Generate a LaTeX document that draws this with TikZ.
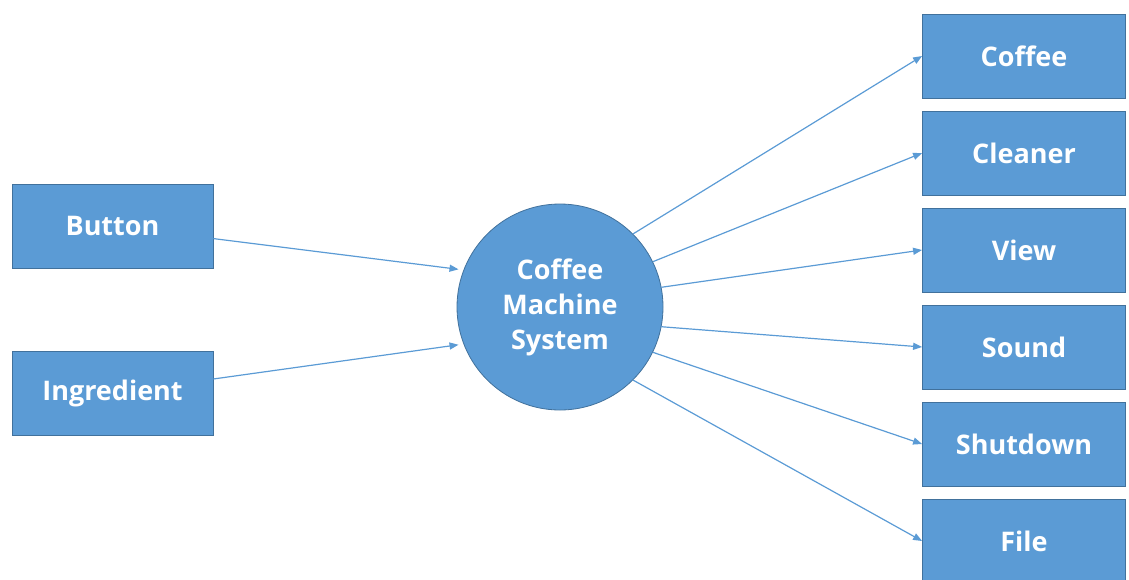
\documentclass[tikz,border=0pt]{standalone}
\usepackage{fontspec}
\setmainfont{Open Sans}
\usepackage{tikz}
\usetikzlibrary{shapes,arrows.meta}
\definecolor{boxblue}{HTML}{5B9BD5}
\definecolor{boxedge}{HTML}{41719C}
\tikzstyle{block} = [rectangle, draw=boxedge, line width=0.8pt, fill=boxblue, text=white,
font=\fontsize{27}{35}\selectfont\bfseries, minimum width=203pt, minimum height=84pt]
\tikzstyle{system} = [circle, draw=boxedge, line width=0.8pt, fill=boxblue, text=white,
font=\fontsize{27}{35}\selectfont\bfseries, align=center, minimum size=206pt, inner sep=0pt]
\tikzstyle{line} = [draw=boxblue, line width=1.2pt, -{Triangle[length=9pt, width=7pt]}]
\begin{document}
\begin{tikzpicture}[x=1pt, y=-1pt, node distance=97pt, auto]
			\useasboundingbox (0,0) rectangle (1129,579);
			\node [system] (sys) at (560,307) {Coffee\\Machine\\System};
			\node [block, minimum width=201pt] (button) at (112.5,226) {Button};
			\node [block, minimum width=201pt, below of=button, node distance=167pt] (ingredient) {Ingredient};
			\node [block] (coffee) at (1024,56) {Coffee};
			\node [block, below of=coffee] (cleaner) {Cleaner};
			\node [block, below of=cleaner] (view) {View};
			\node [block, below of=view] (sound) {Sound};
			\node [block, below of=sound] (shutdown) {Shutdown};
			\node [block, below of=shutdown] (file) {File};
			\path [line, shorten >=5pt] (button) -- (sys.159);
			\path [line, shorten >=5pt] (ingredient) -- (sys.201);
			\path [line] (sys.45) -- (coffee.west);
			\path [line] (sys.26) -- (cleaner.west);
			\path [line] (sys.11) -- (view.west);
			\path [line] (sys.-11) -- (sound.west);
			\path [line] (sys.-26) -- (shutdown.west);
			\path [line] (sys.-45) -- (file.west);
		\end{tikzpicture}
\end{document}
